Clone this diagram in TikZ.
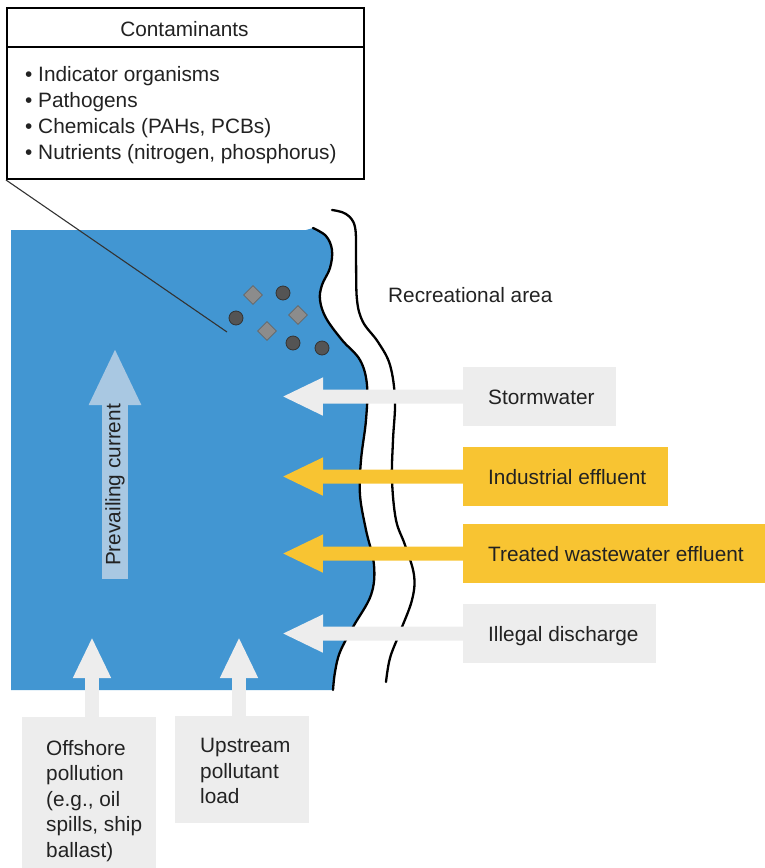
\documentclass[tikz,border=0pt]{standalone}
\usepackage{fontspec}
\setmainfont{Liberation Sans}
\usetikzlibrary{arrows.meta,shapes.geometric}
\definecolor{water}{HTML}{4296D2}
\definecolor{current}{HTML}{A9C8E2}
\definecolor{paleg}{HTML}{EDEDED}
\definecolor{amber}{HTML}{F8C432}
\definecolor{ink}{HTML}{222222}
\tikzset{
  srcbox/.style={fill=#1, draw=none, inner sep=0, anchor=north west},
  lbl/.style={inner sep=0, text=ink},
  flow/.style={line width=14pt, draw=#1, -{Triangle[length=41pt,width=35pt]}},
  shore/.style={line width=2.3pt, line cap=round, line join=round},
  grain/.style={circle, minimum size=14pt, inner sep=0, fill=black!67, draw=black!80, line width=0.8pt},
  flake/.style={diamond, minimum size=19pt, inner sep=0, fill=black!45, draw=black!60, line width=0.8pt},
}
\begin{document}
\begin{tikzpicture}[x=1pt, y=-1pt, font=\fontsize{20.8}{25.5}\selectfont]
\useasboundingbox (0,0) rectangle (765,868);

% ---- water body with the shoreline as its right edge
\fill[water] (11,230) -- (306,230) -- plot[smooth, tension=0.6] coordinates {
  (313,228) (326,236) (332,250) (330,268) (322,285) (320,300) (326,318)
  (342,340) (360,360) (367,385) (366,420) (361,460) (360,495) (366,530)
  (374,565) (371,595) (353,627) (340,652) (335,672) (333,690)}
  -- (11,690) -- cycle;

% ---- shoreline and edge of the recreational area
\draw[shore] plot[smooth, tension=0.6] coordinates {
  (313,228) (326,236) (332,250) (330,268) (322,285) (320,300) (326,318)
  (342,340) (360,360) (367,385) (366,420) (361,460) (360,495) (366,530)
  (374,565) (371,595) (353,627) (340,652) (335,672) (333,690)};
\draw[shore] plot[smooth, tension=0.6] coordinates {
  (332,210) (346,214) (355,227) (356,260) (357,300) (363,322) (378,342)
  (390,365) (395,400) (393,440) (392,480) (396,520) (405,545) (414,575)
  (412,600) (400,632) (390,658) (386,682)};
\node[lbl, anchor=base west] (rec) at (388,302) {Recreational area};

% ---- contaminant particles
\node[grain] (g1) at (283,293) {};
\node[grain] (g2) at (236,318) {};
\node[grain] (g3) at (293,343) {};
\node[grain] (g4) at (322,348) {};
\node[flake] (f1) at (253,295) {};
\node[flake] (f2) at (298,315) {};
\node[flake] (f3) at (267,331) {};

% ---- contaminants box
\node[draw, line width=2pt, fill=white, minimum width=357pt, minimum height=171pt,
      anchor=north west, inner sep=0] (cont) at (6,7) {};
\draw[line width=1.5pt] ([yshift=-40pt]cont.north west) -- ([yshift=-40pt]cont.north east);
\node[lbl, anchor=base] (head) at (184.5,36) {Contaminants};
\node[lbl, anchor=base west] (b1) at (25,81)  {\textbullet\ Indicator organisms};
\node[lbl, anchor=base west] (b2) at (25,107) {\textbullet\ Pathogens};
\node[lbl, anchor=base west] (b3) at (25,133) {\textbullet\ Chemicals (PAHs, PCBs)};
\node[lbl, anchor=base west] (b4) at (25,159) {\textbullet\ Nutrients (nitrogen, phosphorus)};
\coordinate (spot) at (227,332);
\draw[line width=1.1pt, black!80] (cont.south west) -- (spot);

% ---- prevailing current
\coordinate (pbase) at (115,579);
\coordinate (ptip) at (115,348);
\draw[line width=26pt, current, -{Triangle[length=57pt,width=48pt]}] (pbase) -- (ptip);
\node[lbl, rotate=90] (prev) at (115,485) {Prevailing current};

% ---- sources on the shore side
\node[srcbox=paleg, minimum width=153pt, minimum height=59pt] (storm) at (463,367) {};
\node[srcbox=amber, minimum width=205pt, minimum height=59pt] (indus) at (463,447) {};
\node[srcbox=amber, minimum width=310pt, minimum height=59pt] (treat) at (463,524) {};
\node[srcbox=paleg, minimum width=193pt, minimum height=59pt] (illeg) at (463,604) {};
\node[lbl, anchor=base west] (stormT) at ([xshift=25pt, yshift=-7.5pt]storm.west) {Stormwater};
\node[lbl, anchor=base west] (indusT) at ([xshift=25pt, yshift=-7.5pt]indus.west) {Industrial effluent};
\node[lbl, anchor=base west] (treatT) at ([xshift=25pt, yshift=-7.5pt]treat.west) {Treated wastewater effluent};
\node[lbl, anchor=base west] (illegT) at ([xshift=25pt, yshift=-7.5pt]illeg.west) {Illegal discharge};

\coordinate (tS) at (282,396.5);
\coordinate (tI) at (282,476.5);
\coordinate (tT) at (282,553.5);
\coordinate (tL) at (282,633.5);
\draw[flow=paleg] (storm.west) -- (tS);
\draw[flow=amber] (indus.west) -- (tI);
\draw[flow=amber] (treat.west) -- (tT);
\draw[flow=paleg] (illeg.west) -- (tL);

% ---- sources on the sea side
\node[srcbox=paleg, minimum width=134pt, minimum height=160pt] (offsh) at (22,717) {};
\node[srcbox=paleg, minimum width=134pt, minimum height=107pt] (upstr) at (175,716) {};
\node[lbl, anchor=north west, align=left] (offshT) at ([xshift=24pt, yshift=-23pt]offsh.north west)
  {Offshore\\pollution\\(e.g., oil\\spills, ship\\ballast)};
\node[lbl, anchor=north west, align=left] (upstrT) at ([xshift=25pt, yshift=-22pt]upstr.north west)
  {Upstream\\pollutant\\load};
\coordinate (tO) at (92,637);
\coordinate (tU) at (239,637);
\draw[flow=paleg] (offsh.north -| tO) -- (tO);
\draw[flow=paleg] (upstr.north -| tU) -- (tU);
\end{tikzpicture}
\end{document}
